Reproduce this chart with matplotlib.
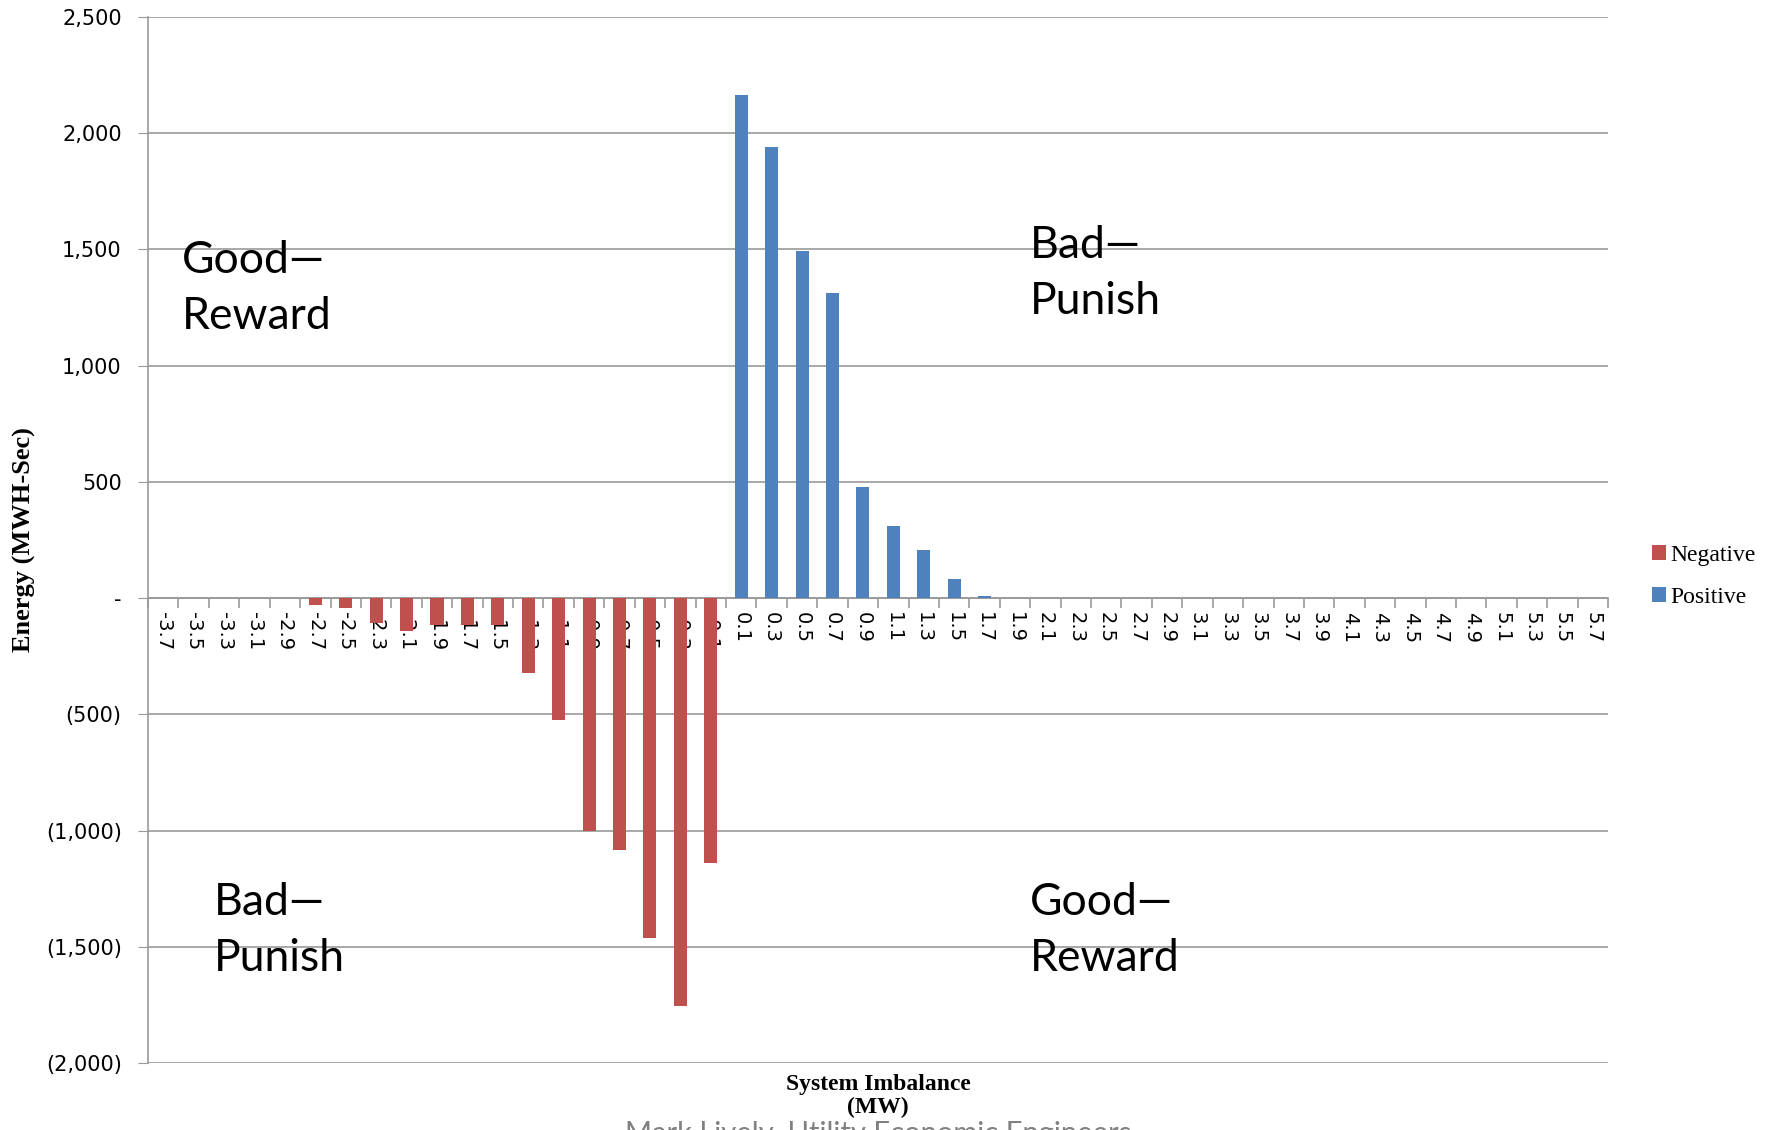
import numpy as np
import matplotlib.pyplot as plt
from matplotlib.ticker import FuncFormatter, FixedLocator

# System imbalance bins (MW)
categories = ['-3.7', '-3.5', '-3.3', '-3.1', '-2.9', '-2.7', '-2.5', '-2.3', '-2.1', '-1.9',
              '-1.7', '-1.5', '-1.3', '-1.1', '-0.9', '-0.7', '-0.5', '-0.3', '-0.1',
              '0.1', '0.3', '0.5', '0.7', '0.9', '1.1', '1.3', '1.5', '1.7', '1.9',
              '2.1', '2.3', '2.5', '2.7', '2.9', '3.1', '3.3', '3.5', '3.7', '3.9',
              '4.1', '4.3', '4.5', '4.7', '4.9', '5.1', '5.3', '5.5', '5.7']

# Energy (MWH-Sec) per bin
negative = [0, 0, 0, 0, 0, -29, -43, -108, -143, -115,
            -115, -115, -323, -525, -1001, -1085, -1463, -1753, -1139,
            0, 0, 0, 0, 0, 0, 0, 0, 0, 0,
            0, 0, 0, 0, 0, 0, 0, 0, 0, 0,
            0, 0, 0, 0, 0, 0, 0, 0, 0]
positive = [0, 0, 0, 0, 0, 0, 0, 0, 0, 0,
            0, 0, 0, 0, 0, 0, 0, 0, 0,
            2165, 1939, 1492, 1311, 476, 309, 206, 83, 10, 0,
            0, 0, 0, 0, 0, 0, 0, 0, 0, 0,
            0, 0, 0, 0, 0, 0, 0, 0, 0]

y_ticks = [-2000, -1500, -1000, -500, 0, 500, 1000, 1500, 2000, 2500]

red = '#C0504D'
blue = '#4F81BD'
grid_col = '#999999'

fig = plt.figure(figsize=(17.88, 11.3), dpi=100)
ax = fig.add_axes([0.0828, 0.0593, 0.8166, 0.9257])

x = np.arange(len(categories))
ax.bar(x, negative, width=0.43, color=red, label='Negative', zorder=3)
ax.bar(x, positive, width=0.43, color=blue, label='Positive', zorder=3)

ax.set_xlim(-0.5, len(categories) - 0.5)
ax.set_ylim(-2000, 2500)


def fmt(v, pos):
    if v == 0:
        return '-'
    if v < 0:
        return '({:,.0f})'.format(-v)
    return '{:,.0f}'.format(v)


ax.yaxis.set_major_locator(FixedLocator(y_ticks))
ax.yaxis.set_major_formatter(FuncFormatter(fmt))
ax.grid(axis='y', color=grid_col, lw=1.2, zorder=0)
ax.tick_params(axis='y', length=7, color=grid_col, labelsize=15, pad=12)

# category axis sits on the zero line
ax.spines['bottom'].set_position(('data', 0))
ax.spines['bottom'].set_color(grid_col)
ax.spines['bottom'].set_linewidth(1.2)
ax.spines['left'].set_color(grid_col)
ax.spines['left'].set_linewidth(1.2)
ax.spines['top'].set_visible(False)
ax.spines['right'].set_visible(False)

ax.set_xticks(x)
ax.set_xticklabels(categories, rotation=270, fontsize=14)
ax.set_xticks(np.arange(len(categories) + 1) - 0.5, minor=True)
ax.tick_params(axis='x', which='major', length=0, pad=10)
ax.tick_params(axis='x', which='minor', length=7, color=grid_col, width=1.2)
for lab in ax.get_xticklabels():
    lab.set_verticalalignment('top')

ax.set_ylabel('Energy (MWH-Sec)', family='Liberation Serif', fontweight='bold', fontsize=19)
ax.yaxis.set_label_coords(-0.077, 0.50)

fig.text(0.491, 0.030, 'System Imbalance\n(MW)', ha='center', va='center',
         family='Liberation Serif', fontweight='bold', fontsize=17, linespacing=1.1)

fig.text(0.491, 0.008, 'Mark Lively, Utility Economic Engineers', ha='center', va='top',
         family='Lato', fontsize=21, color='#808080')

# quadrant notes
note = dict(family='Lato', fontsize=32, va='center', ha='left', linespacing=1.45)
ax.text(0.023, 0.74, 'Good\u2014\nReward', transform=ax.transAxes, **note)
ax.text(0.604, 0.755, 'Bad\u2014\nPunish', transform=ax.transAxes, **note)
ax.text(0.045, 0.127, 'Bad\u2014\nPunish', transform=ax.transAxes, **note)
ax.text(0.604, 0.127, 'Good\u2014\nReward', transform=ax.transAxes, **note)

fig.legend(loc='center left', bbox_to_anchor=(0.912, 0.49), frameon=False,
           prop={'family': 'Liberation Serif', 'size': 17},
           handlelength=0.6, handleheight=0.6, handletextpad=0.2, labelspacing=0.9)

fig.savefig('out.png', dpi=100)
